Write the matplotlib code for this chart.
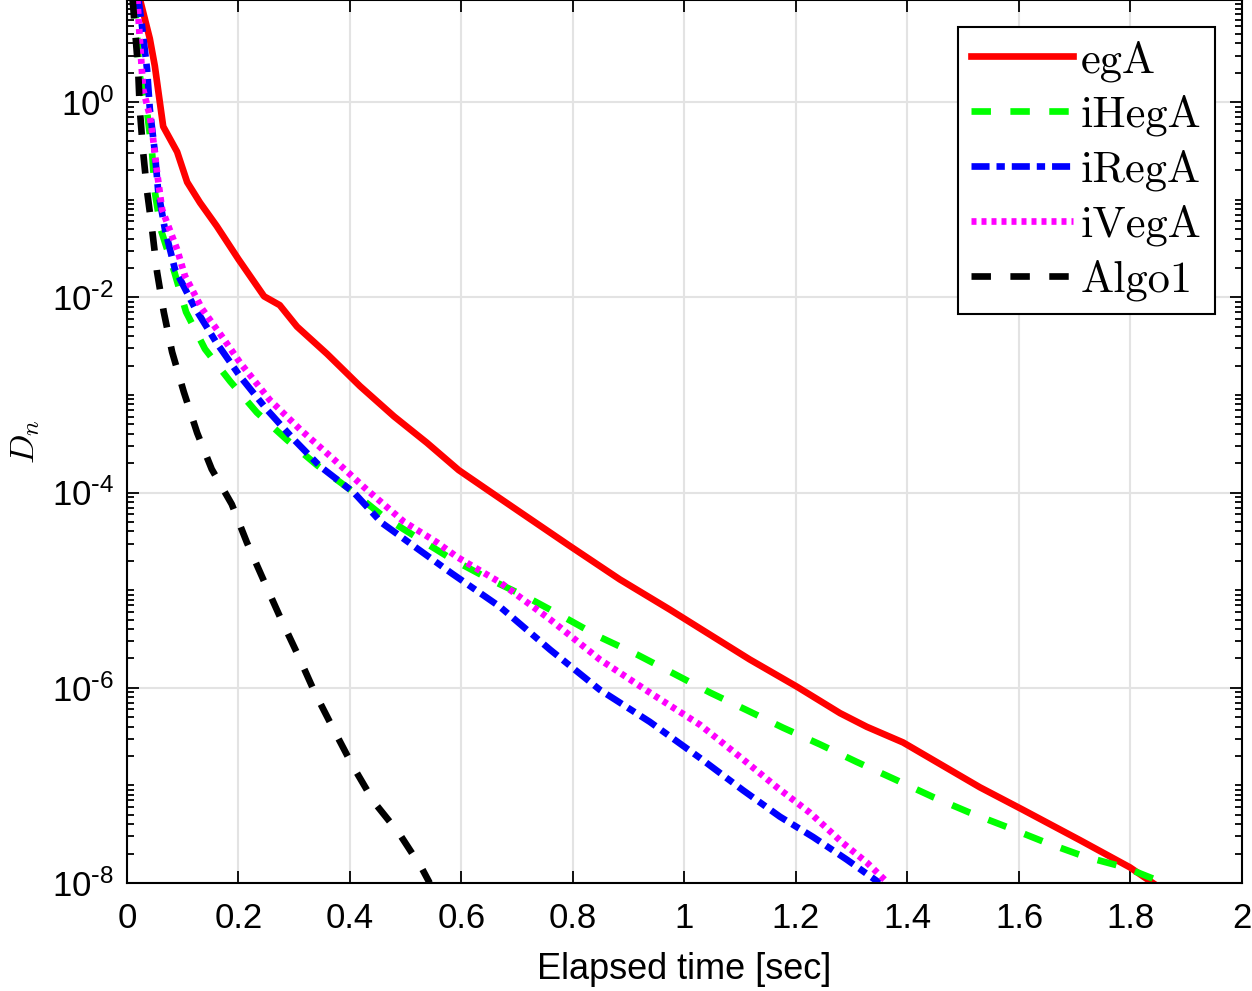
import numpy as np
import matplotlib
matplotlib.use("Agg")
import matplotlib.pyplot as plt
from matplotlib.ticker import FixedLocator, LogLocator, FuncFormatter, NullFormatter

plt.rcParams['font.family'] = ['Liberation Sans', 'DejaVu Sans']
plt.rcParams['lines.scale_dashes'] = False

# elapsed time [sec] and log10(D_n)
egA_t = [0.017, 0.023, 0.041, 0.05, 0.065, 0.09, 0.108, 0.131, 0.161, 0.2, 0.246,
         0.274, 0.305, 0.359, 0.418, 0.479, 0.538, 0.595, 0.646, 0.705, 0.795, 0.884,
         0.974, 1.03, 1.117, 1.202, 1.279, 1.327, 1.392, 1.476, 1.53, 1.607, 1.709,
         1.799, 1.84]
egA_log = [1.3, 1.06, 0.65, 0.37, -0.25, -0.51, -0.82, -1.03, -1.27, -1.61, -1.99,
           -2.08, -2.30, -2.58, -2.91, -3.22, -3.49, -3.77, -3.97, -4.2, -4.55, -4.89,
           -5.2, -5.4, -5.71, -5.99, -6.26, -6.4, -6.56, -6.84, -7.02, -7.25, -7.56,
           -7.84, -8.0]

iHegA_t = [0.012, 0.023, 0.036, 0.045, 0.05, 0.061, 0.085, 0.106, 0.14, 0.185, 0.233,
           0.287, 0.341, 0.398, 0.461, 0.52, 0.582, 0.651, 0.717, 0.782, 0.848, 0.915,
           0.979, 1.046, 1.112, 1.177, 1.243, 1.309, 1.378, 1.446, 1.512, 1.58, 1.65,
           1.718, 1.79, 1.86]
iHegA_log = [1.2, 0.27, -0.1, -0.51, -0.92, -1.31, -1.74, -2.15, -2.53, -2.86, -3.18,
             -3.46, -3.72, -3.96, -4.25, -4.46, -4.68, -4.89, -5.07, -5.27, -5.48, -5.66,
             -5.85, -6.05, -6.23, -6.41, -6.58, -6.76, -6.94, -7.12, -7.28, -7.43, -7.59,
             -7.73, -7.84, -8.0]

iRegA_t = [0.015, 0.027, 0.036, 0.041, 0.05, 0.056, 0.068, 0.086, 0.121, 0.16, 0.203,
           0.251, 0.3, 0.346, 0.407, 0.457, 0.515, 0.583, 0.669, 0.759, 0.848, 0.938,
           1.028, 1.105, 1.171, 1.231, 1.291, 1.35]
iRegA_log = [1.3, 0.78, 0.34, -0.07, -0.51, -0.91, -1.30, -1.71, -2.10, -2.46, -2.81,
             -3.15, -3.46, -3.73, -4.0, -4.31, -4.55, -4.83, -5.17, -5.61, -6.02, -6.35,
             -6.72, -7.05, -7.32, -7.53, -7.76, -8.0]

iVegA_t = [0.016, 0.023, 0.029, 0.041, 0.047, 0.054, 0.063, 0.09, 0.104, 0.135, 0.174,
           0.203, 0.256, 0.31, 0.371, 0.43, 0.497, 0.556, 0.592, 0.669, 0.759, 0.848,
           0.938, 1.028, 1.1, 1.166, 1.225, 1.284, 1.327, 1.365]
iVegA_log = [1.3, 0.65, 0.13, -0.14, -0.38, -0.72, -1.10, -1.51, -1.78, -2.12, -2.43,
             -2.67, -3.05, -3.35, -3.66, -3.97, -4.3, -4.51, -4.66, -4.92, -5.3, -5.71,
             -6.05, -6.38, -6.71, -7.02, -7.28, -7.59, -7.79, -8.0]

algo1_t = [0.008, 0.014, 0.02, 0.023, 0.029, 0.036, 0.045, 0.054, 0.066, 0.081, 0.102,
           0.126, 0.152, 0.188, 0.215, 0.246, 0.275, 0.308, 0.337, 0.371, 0.404, 0.443,
           0.488, 0.529, 0.543]
algo1_log = [1.2, 0.78, 0.34, -0.07, -0.51, -0.91, -1.30, -1.74, -2.15, -2.56, -2.97,
             -3.39, -3.76, -4.12, -4.51, -4.91, -5.28, -5.68, -6.05, -6.43, -6.79, -7.17,
             -7.49, -7.85, -8.0]

x_ticks = [0, 0.2, 0.4, 0.6, 0.8, 1, 1.2, 1.4, 1.6, 1.8, 2]
x_ticklabels = ['0', '0.2', '0.4', '0.6', '0.8', '1', '1.2', '1.4', '1.6', '1.8', '2']
y_major = [1e-8, 1e-6, 1e-4, 1e-2, 1e0]


def pow10_label(v, pos):
    e = int(round(np.log10(v)))
    s = str(e).replace('-', r'\text{-}')
    return r'$\mathdefault{10^{' + s + r'}}$'


fig = plt.figure(figsize=(12.52, 9.91), dpi=100)
ax = fig.add_axes([0.1014, 0.109, 0.8906, 0.891])

lw = 4.8
ax.plot(egA_t, 10.0 ** np.array(egA_log), color='#ff0000', lw=lw, ls='-', label='egA')
ax.plot(iHegA_t, 10.0 ** np.array(iHegA_log), color='#00ff00', lw=lw,
        ls=(0, (14, 14)), dash_capstyle='butt', label='iHegA')
ax.plot(iRegA_t, 10.0 ** np.array(iRegA_log), color='#0000ff', lw=lw,
        ls=(0, (13, 5, 6, 5)), dash_capstyle='butt', label='iRegA')
ax.plot(iVegA_t, 10.0 ** np.array(iVegA_log), color='#ff00ff', lw=lw,
        ls=(0, (3.6, 3.6)), dash_capstyle='butt', label='iVegA')
ax.plot(algo1_t, 10.0 ** np.array(algo1_log), color='black', lw=lw,
        ls=(0, (14, 14)), dash_capstyle='butt', label='Algo1')

ax.set_yscale('log')
ax.set_xlim(0, 2)
ax.set_ylim(1e-8, 10 ** 1.046)

ax.set_xticks(x_ticks)
ax.set_xticklabels(x_ticklabels)
ax.yaxis.set_major_locator(FixedLocator(y_major))
ax.yaxis.set_major_formatter(FuncFormatter(pow10_label))
ax.yaxis.set_minor_locator(LogLocator(base=10, subs=np.arange(1, 10), numticks=40))
ax.yaxis.set_minor_formatter(NullFormatter())

ax.grid(True, which='major', color='#e3e3e3', lw=1.5)
ax.set_axisbelow(True)
ax.tick_params(which='both', direction='in', top=True, right=True, width=1.3,
               labelsize=25, color='black')
ax.tick_params(which='major', length=8.5)
ax.tick_params(which='minor', length=5)
ax.tick_params(axis='x', pad=14)
ax.tick_params(axis='y', pad=9)
for s in ax.spines.values():
    s.set_linewidth(1.5)

ax.set_xlabel('Elapsed time [sec]', fontsize=26, labelpad=12)
ax.set_ylabel('$D_n$', fontsize=25, math_fontfamily='cm')
ax.yaxis.set_label_coords(-0.076, 0.5)

leg = ax.legend(loc='upper right', prop={'family': 'cmr10', 'size': 32},
                handlelength=2.3, handletextpad=0.18, labelspacing=0.3,
                borderaxespad=0.6, borderpad=0.3, fancybox=False, framealpha=1)
leg.get_frame().set_edgecolor('black')
leg.get_frame().set_linewidth(1.5)

fig.savefig('out.png', dpi=100)
